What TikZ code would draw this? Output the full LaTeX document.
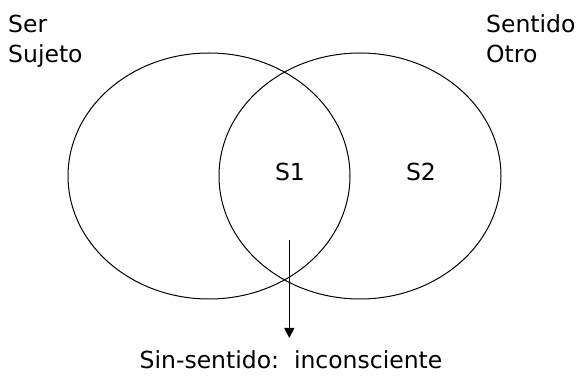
\documentclass[tikz,border=0pt]{standalone}
\usepackage{fontspec}
\setmainfont{DejaVu Sans}
\usetikzlibrary{shapes.geometric,arrows.meta}
\tikzset{
  venn/.style={ellipse, draw=black, line width=1pt, minimum width=282pt, minimum height=246pt, inner sep=0pt},
  lbl/.style={inner sep=0pt, font=\fontsize{23.5}{28}\selectfont},
  arr/.style={line width=1.3pt, -{Triangle[width=10pt,length=10pt]}}
}
\begin{document}
\begin{tikzpicture}[x=1pt,y=1pt]
\useasboundingbox (0,0) rectangle (582,383);
\node[venn] (A) at (209,207) {};
\node[venn] (B) at (360,207) {};
\node[lbl, anchor=base west] (ser) at (8,350) {Ser};
\node[lbl, anchor=base west] (suj) at (8,320) {Sujeto};
\node[lbl, anchor=base west] (sen) at (486,350) {Sentido};
\node[lbl, anchor=base west] (otr) at (486,320) {Otro};
\node[lbl] (s1) at (290,211) {S1};
\node[lbl] (s2) at (421,211) {S2};
\node[lbl, anchor=base] (sin) at (291,14) {Sin-sentido:\ \ inconsciente};
\coordinate (a0) at (289.3,143);
\coordinate (a1) at (289.3,45);
\draw[arr] (a0) -- (a1);
\end{tikzpicture}
\end{document}
